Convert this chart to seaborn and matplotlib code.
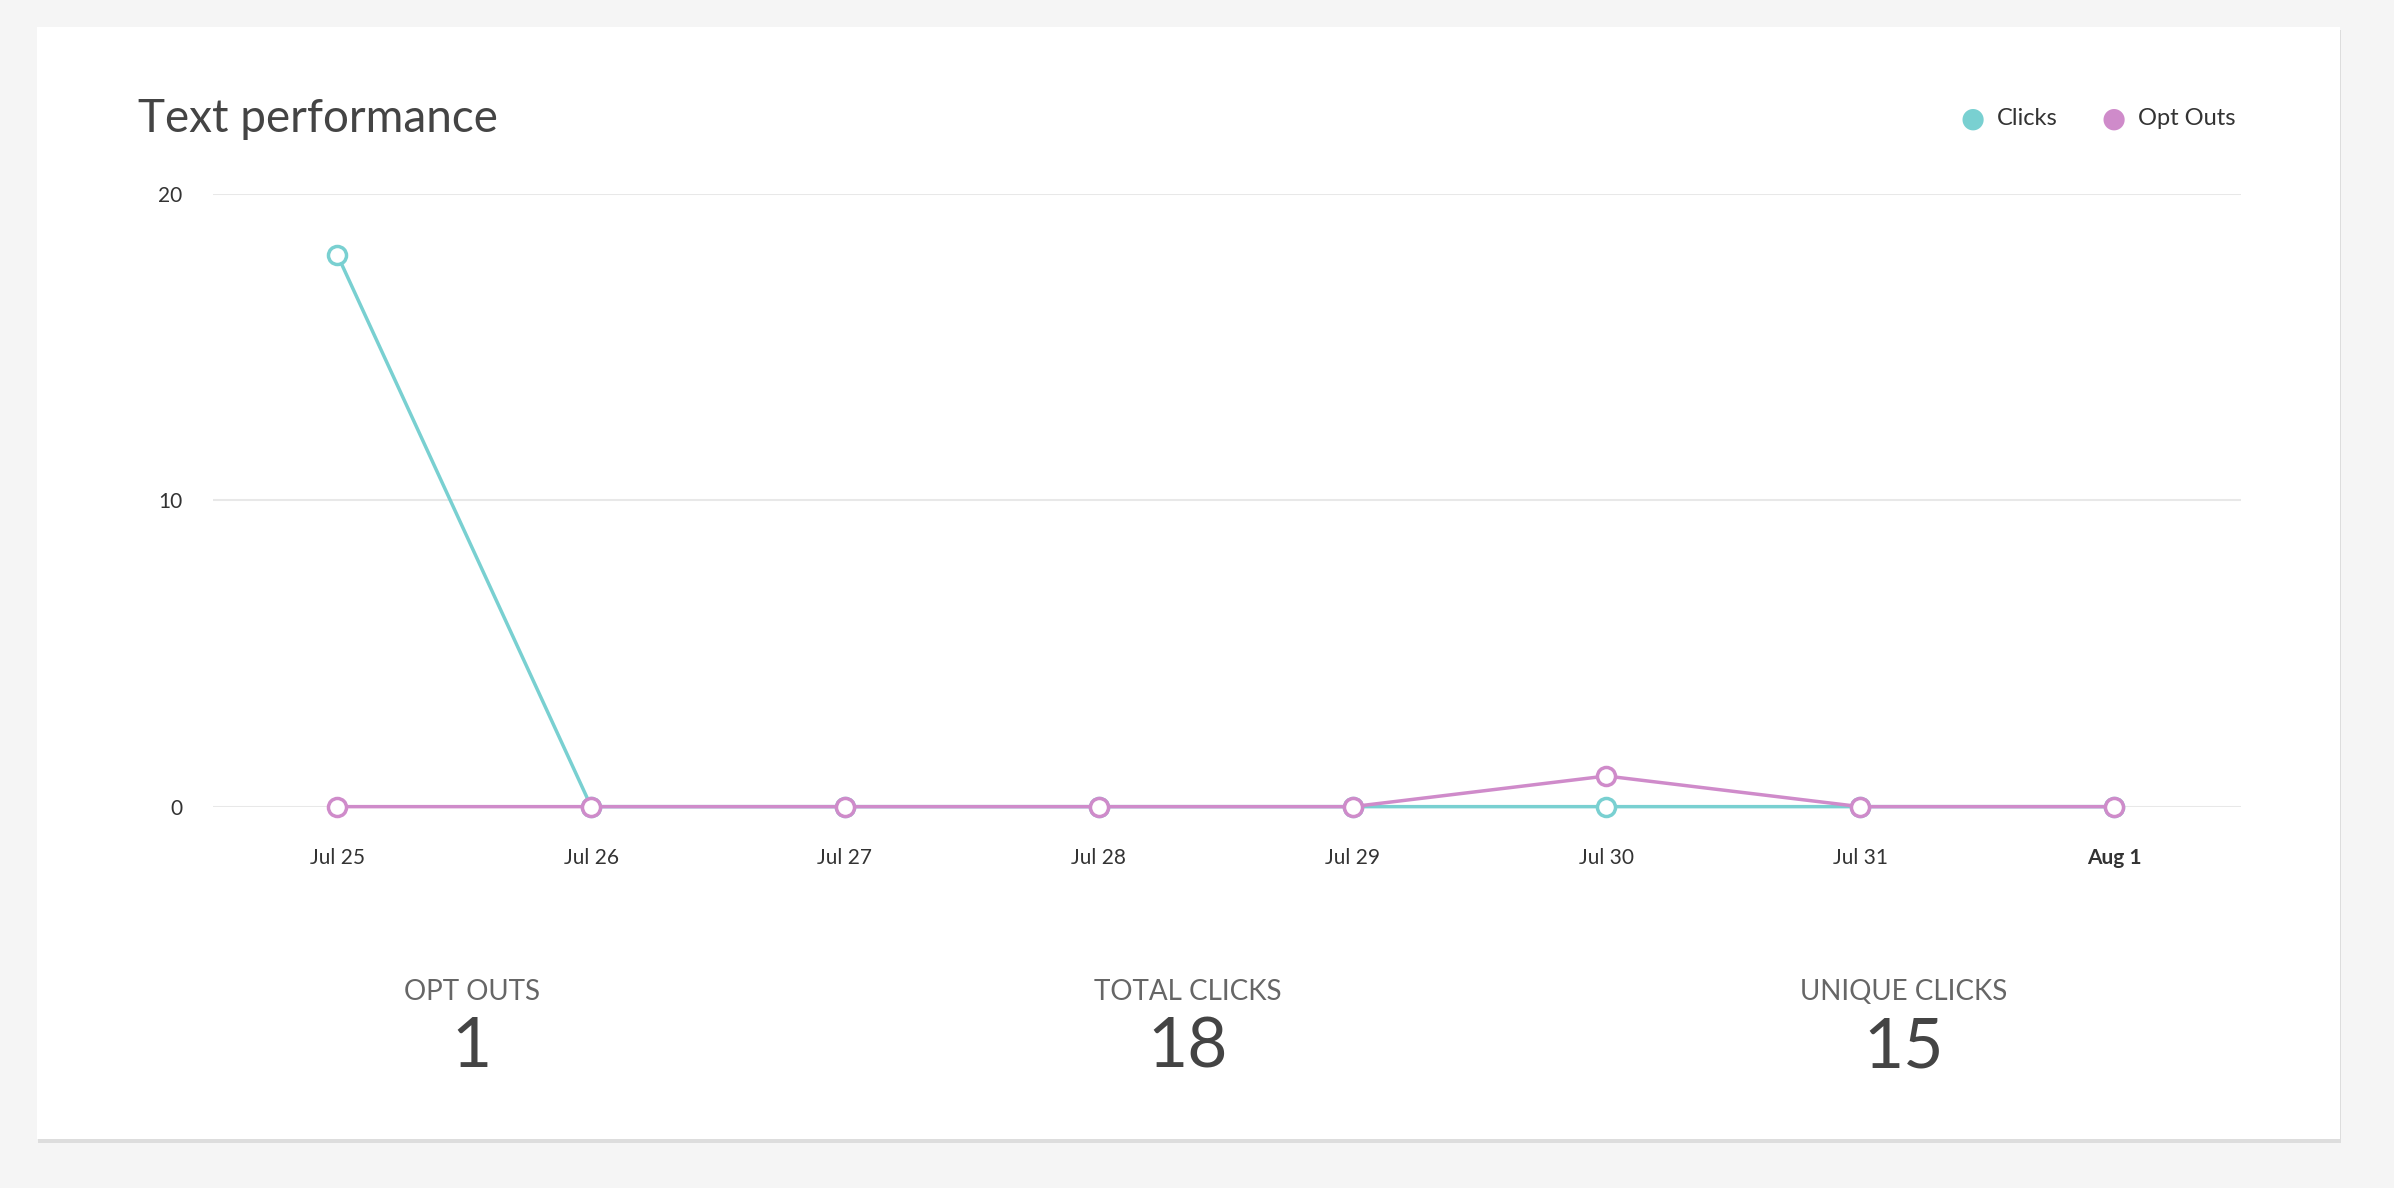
import numpy as np
import pandas as pd
import matplotlib
matplotlib.use("Agg")
import matplotlib.pyplot as plt
import seaborn as sns
from matplotlib.patches import Rectangle

# --- data ---
dates = ["Jul 25", "Jul 26", "Jul 27", "Jul 28", "Jul 29", "Jul 30", "Jul 31", "Aug 1"]
clicks = [18, 0, 0, 0, 0, 0, 0, 0]
opt_outs = [0, 0, 0, 0, 0, 1, 0, 0]
y_ticks = [0, 10, 20]
stat_labels = ["OPT OUTS", "TOTAL CLICKS", "UNIQUE CLICKS"]
stat_values = ["1", "18", "15"]

CLICK_COLOR = "#79d0d1"
OPT_COLOR = "#cf8bca"
FONT = "Lato"

df = pd.DataFrame({
    "idx": list(range(len(dates))) * 2,
    "value": clicks + opt_outs,
    "series": ["Clicks"] * len(dates) + ["Opt Outs"] * len(dates),
})

fig = plt.figure(figsize=(23.94, 11.88), dpi=100)
fig.patch.set_facecolor("#f5f5f5")

# white card with faint shadow
fig.add_artist(Rectangle((0.0157, 0.038), 0.962, 0.937, transform=fig.transFigure,
                         facecolor="#dddddd", edgecolor="none", zorder=-2))
fig.add_artist(Rectangle((0.0153, 0.041), 0.962, 0.936, transform=fig.transFigure,
                         facecolor="white", edgecolor="none", zorder=-1))

ax = fig.add_axes([0.089, 0.321, 0.847, 0.516])
ax.set_zorder(2)
ax.set_facecolor("none")
sns.lineplot(data=df, x="idx", y="value", hue="series",
             palette={"Clicks": CLICK_COLOR, "Opt Outs": OPT_COLOR},
             marker="o", markersize=13, markerfacecolor="white", markeredgewidth=2.5,
             linewidth=2.5, legend=False, ax=ax)
for ln, c in zip(ax.lines, [CLICK_COLOR, OPT_COLOR]):
    ln.set_markeredgecolor(c)
    ln.set_clip_on(False)

ax.set_xlim(-0.49, 7.5)
ax.set_ylim(0, 20)
ax.set_yticks(y_ticks)
ax.set_xticks(range(len(dates)))
ax.set_xticklabels(dates)
for lbl in ax.get_xticklabels():
    lbl.set_fontfamily(FONT)
    lbl.set_fontsize(15)
    lbl.set_color("#333333")
ax.get_xticklabels()[-1].set_fontweight("bold")
for lbl in ax.get_yticklabels():
    lbl.set_fontfamily(FONT)
    lbl.set_fontsize(15)
    lbl.set_color("#333333")
ax.tick_params(length=0, pad=22)
ax.tick_params(axis="x", pad=30)
ax.grid(axis="y", color="#e8e8e8", linewidth=1.5)
ax.set_axisbelow(True)
for s in ax.spines.values():
    s.set_visible(False)
ax.set_xlabel("")
ax.set_ylabel("")

fig.text(0.0575, 0.9, "Text performance", fontsize=33, color="#444444", fontfamily=FONT,
         va="center", ha="left")

# legend
for x, name, c in [(0.824, "Clicks", CLICK_COLOR), (0.883, "Opt Outs", OPT_COLOR)]:
    fig.text(x, 0.9, "\u25cf", color=c, fontsize=20, va="center", ha="center", fontfamily="DejaVu Sans")
    fig.text(x + 0.01, 0.9, name, color="#333333", fontsize=17, va="center", ha="left", fontfamily=FONT)

# stats
for xc, lab, val in zip([0.197, 0.496, 0.795], stat_labels, stat_values):
    fig.text(xc, 0.165, lab, fontsize=20, color="#666666", ha="center", va="center", fontfamily=FONT)
    fig.text(xc, 0.118, val, fontsize=50, color="#444444", ha="center", va="center",
             fontfamily=FONT, fontweight="normal")

fig.savefig("out.png", dpi=100, facecolor=fig.get_facecolor())
